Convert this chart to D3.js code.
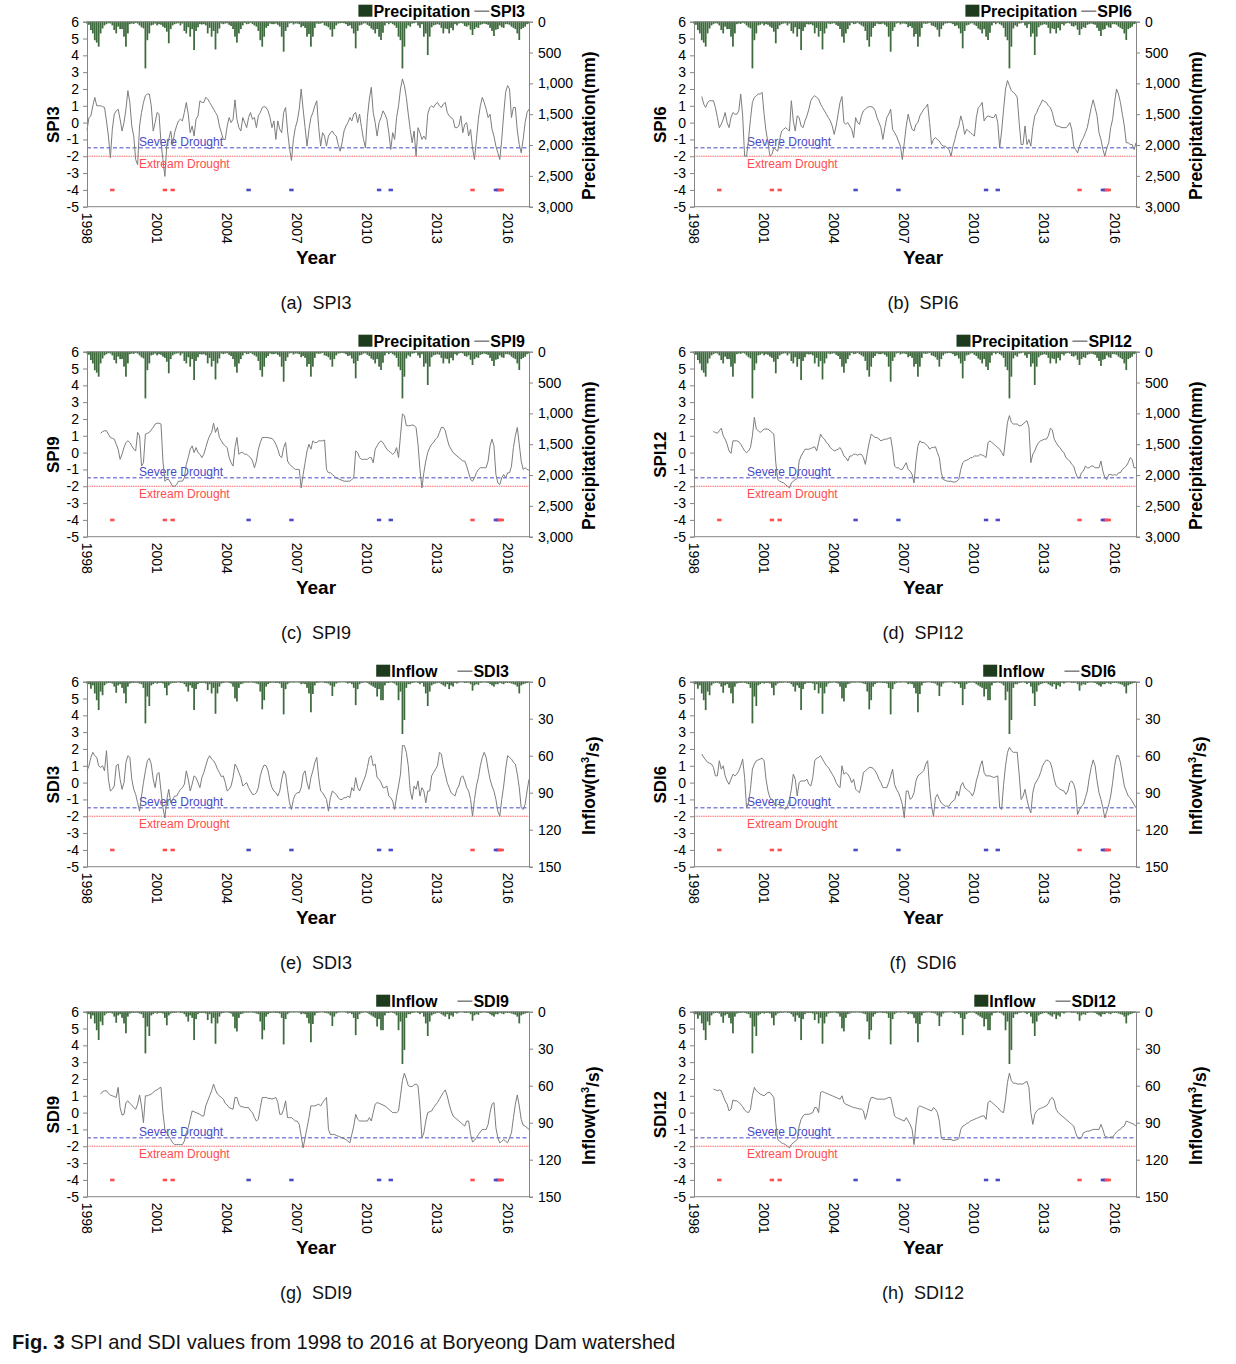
<!DOCTYPE html>
<html><head><meta charset="utf-8">
<script src="https://cdn.jsdelivr.net/npm/d3@7"></script>
<style>
body{margin:0;background:#fff}
svg{display:block}
text{font-family:"Liberation Sans",Arial,sans-serif}
</style>
</head><body>
<svg id="c" width="1236" height="1364"></svg>
<script>
// ---------- DATA (monthly, Jan 1998 - Dec 2016) ----------
const precipitation = [
30,50,135,190,300,340,405,190,110,60,40,25,
30,60,135,190,80,120,120,243,405,190,40,30,
35,20,30,60,90,108,757,300,190,60,50,30,
60,40,50,80,100,162,350,120,60,40,30,25,
60,30,150,190,90,243,120,460,150,90,40,45,
40,60,190,100,243,150,450,190,110,30,40,30,
25,50,70,120,243,340,190,120,60,20,40,35,
20,40,60,80,150,300,405,243,100,70,30,40,
40,30,50,80,243,486,150,90,30,20,45,30,
30,40,90,70,100,243,200,405,243,100,30,35,
30,20,60,70,90,130,243,120,60,30,25,20,
25,40,70,60,110,190,432,150,60,50,30,25,
50,70,110,130,190,120,243,297,180,60,20,40,
20,40,60,100,243,300,757,405,110,60,80,30,
25,15,60,100,40,243,190,540,243,90,60,50,
40,50,100,190,110,120,190,100,140,40,60,30,
20,30,70,80,60,130,216,120,90,100,50,40,
30,40,50,100,150,232,130,120,60,90,100,40,
40,50,80,100,120,190,297,120,100,80,40,30];

const inflow = [
1.5,2,5.7,3,9.5,15,23,8,11,3,1.5,1,
1,1.5,4,9,3,2,5,9.5,17.5,4,1.5,1,
1,0.8,1,1.5,2,5,33.8,12,19.7,3,2,1,
1.5,1,1,1.5,5,11,3,1.5,1,1,0.8,0.6,
1,1,2,4,8,3,5,23,6,2,1,1,
1,1.5,6.8,2,9.5,5,26,9.5,4,1.5,1,0.8,
0.6,1,1.5,4,13.5,16,5,2,1.5,0.8,0.8,0.8,
0.6,0.8,1,1.5,2,8,22.4,15,4,2,1,0.8,
0.8,1,1,1.5,5,26.5,6,2,1,0.6,0.8,0.6,
0.6,0.8,2,1.5,2,5,9.5,24.8,10,3,1,0.8,
0.6,0.5,1,1.2,1.5,3,11.6,4,1.5,0.8,0.6,0.5,
0.5,0.8,1.5,1,2,5,19,6,2,1,0.8,0.6,
1,2,3,4,5,12,6,15,15,3,1,1,
0.6,1,1.5,3,15,8,42.4,31,5,2,2,1,
0.8,0.5,1,2,1,4,9.5,19.7,8,3,2,1.5,
1,1,2,3,4,2,6,3,4,1,1.5,0.8,
0.5,0.6,1,1,0.8,2,7.3,3,2,2.5,1,0.8,
0.6,0.8,1,2,3,4,2,2,1,1.5,2,1,
1,1,1.5,2,2.5,4,9.5,3,2,1.5,1,0.8];

const spi3 = [
-0.45,0.3,0.4,1.0,1.5,1.0,1.0,1.0,0.95,0.9,0.1,-0.8,
-2.1,-0.4,0.5,0.7,0.8,0.2,-0.5,0.0,0.8,1.9,1.2,-0.2,
-0.8,-2.2,-2.5,-0.2,0.6,1.2,1.6,1.7,1.7,1.0,-0.5,0.0,
0.6,0.5,-1.2,-2.2,-3.2,-1.3,-1.0,-0.5,-1.3,-0.6,-0.2,0.1,
0.2,0.1,0.6,1.2,0.5,-0.6,-0.2,-0.8,0.2,0.4,1.3,1.2,
1.2,1.5,1.4,1.2,1.0,0.8,0.6,0.4,-0.2,-0.6,-1.0,-1.0,
-0.2,0.3,0.0,0.2,1.35,0.2,-0.3,-0.5,0.3,0.0,-0.3,0.3,
0.6,0.2,0.3,-0.3,0.4,0.6,0.9,0.95,0.9,0.7,0.3,-0.3,
0.1,-1.0,0.1,-0.4,-0.6,0.6,0.9,-0.5,-1.5,-2.25,-1.0,-0.3,
0.1,0.8,2.0,0.8,-0.3,-1.4,-0.4,0.3,0.6,1.0,1.3,-0.3,
-1.4,-0.6,-0.8,-1.4,-0.8,-0.6,-0.5,-0.7,-0.8,-1.3,-1.7,-1.2,
-0.5,-0.2,0.0,0.3,0.1,0.5,0.6,0.0,0.5,-0.3,-1.0,-1.5,
0.3,1.4,2.1,0.6,0.0,-0.8,0.0,0.3,0.7,0.5,0.2,-0.6,
-1.6,-0.6,-1.0,0.3,1.0,2.0,2.6,2.2,1.5,0.5,-0.4,-1.2,
-0.5,-2.0,-0.3,-0.6,-1.0,-0.8,-1.0,0.5,0.9,1.0,0.9,1.1,
1.2,1.0,0.9,1.1,1.2,0.6,0.4,0.3,0.2,-0.3,-0.3,-0.2,
0.4,-0.6,-0.1,0.0,-0.8,-0.4,-1.5,-2.2,-1.0,0.2,1.0,1.5,
1.2,0.8,0.3,0.5,-0.4,-0.8,-1.4,-1.8,-2.2,-1.0,0.5,1.8,
2.2,2.0,0.3,0.9,0.9,-0.5,-1.3,-1.8,-1.0,0.0,0.6,0.8];

const spi6 = [
null,null,null,null,1.55,1.1,0.9,1.2,1.3,1.3,1.3,0.9,
0.3,-0.3,-0.1,0.2,0.6,0.0,-0.3,0.3,0.6,0.5,0.5,0.7,
1.7,0.4,-2.0,-2.0,-1.0,0.2,1.2,1.5,1.6,1.7,1.7,1.8,
0.5,-0.5,-1.2,-2.0,-1.9,-1.5,-1.6,-1.7,-1.0,-0.5,-0.4,-0.3,
-0.4,-0.5,1.3,0.1,-0.5,0.4,0.3,-0.2,-0.3,0.1,0.4,0.8,
1.3,1.5,1.6,1.5,1.4,1.1,0.9,0.7,0.5,0.3,0.1,-0.2,
-0.7,-0.2,0.5,1.2,1.55,0.0,-0.1,0.0,-0.2,-0.4,-0.9,0.3,
0.0,-0.1,0.4,0.7,0.8,0.9,0.95,0.95,0.9,0.7,0.3,0.0,
-0.3,-1.0,-0.3,0.3,0.5,0.8,-0.4,-0.6,-0.8,-1.1,-1.4,-2.2,
-1.2,-0.2,0.5,0.0,-0.4,-0.5,-0.1,0.0,0.4,0.6,0.8,0.9,
1.1,0.0,-1.3,-1.0,-0.9,-1.0,-1.1,-1.3,-1.4,-1.4,-1.5,-1.6,
-2.0,-1.4,-1.0,-0.5,-0.2,0.4,0.0,-0.7,-0.4,-0.5,-0.6,-0.7,
-0.8,0.3,0.9,1.0,1.2,0.1,0.3,0.4,0.35,0.3,0.3,0.5,
0.0,-1.5,-0.5,0.8,2.0,2.5,2.2,1.9,1.8,1.7,1.5,0.0,
-1.3,-1.3,-0.2,-1.3,-1.0,-1.4,-0.3,0.4,0.6,0.9,1.1,1.35,
1.25,1.2,1.0,0.9,0.6,0.1,-0.2,-0.2,-0.25,-0.3,-0.3,-0.3,
-0.2,0.0,-0.4,-1.4,-1.6,-1.8,-1.4,-1.1,-0.9,-0.6,-0.3,0.3,
0.9,1.35,0.9,0.4,-0.6,-1.0,-1.6,-2.0,-1.5,-1.2,-0.3,0.2,
1.2,2.0,1.7,1.2,0.5,-0.2,-1.2,-1.2,-1.3,-1.3,-1.6,-1.2];

const spi9 = [
null,null,null,null,null,null,null,1.15,1.25,1.3,1.3,1.1,
0.9,0.85,0.8,0.5,0.2,-0.4,-0.1,0.3,0.6,0.7,0.6,0.4,
0.2,0.1,1.2,1.0,-0.8,-0.6,1.1,1.15,1.2,1.35,1.5,1.7,
1.75,1.75,1.7,-0.5,-1.7,-1.6,-1.6,-1.8,-2.0,-2.0,-1.9,-1.7,
-1.7,-1.7,-1.5,-0.7,-0.3,0.2,0.4,0.0,0.3,0.0,-0.1,-0.3,
-0.1,0.3,0.7,1.0,1.2,1.75,1.2,1.5,0.9,0.7,0.5,0.4,
0.3,-0.3,-0.6,-0.8,0.3,0.9,-0.1,0.0,0.0,-0.1,-0.1,-0.2,
-0.3,-0.5,-0.9,-0.5,0.2,0.6,0.9,0.9,0.9,0.9,0.85,0.85,
0.7,0.5,0.2,-0.2,-0.3,0.3,0.6,-0.5,-0.7,-0.8,-0.9,-1.0,
-1.0,-1.0,-2.1,-1.3,-0.6,0.1,0.5,0.2,0.7,0.6,0.6,0.7,
0.7,0.7,0.75,-1.0,-1.2,-1.2,-1.3,-1.4,-1.5,-1.55,-1.6,-1.65,
-1.7,-1.7,-1.7,-1.7,-1.6,-1.5,0.1,0.0,-0.3,-0.4,-0.4,-0.4,
-0.4,-0.3,-0.3,-0.6,0.2,0.4,0.6,0.7,0.6,0.4,0.2,0.1,
0.0,-0.1,0.0,0.3,-0.3,1.0,2.3,2.2,1.6,1.6,1.6,1.65,
1.6,1.5,0.5,-1.0,-2.1,-1.2,-0.5,0.0,0.3,0.5,0.6,0.8,
0.9,1.2,1.5,1.5,1.3,0.8,0.4,0.2,0.0,-0.1,-0.2,-0.3,
-0.4,-0.5,-0.5,-0.8,-1.2,-1.6,-1.7,-1.5,-1.2,-1.0,-0.9,-0.9,
-0.9,-0.9,-0.5,0.4,0.8,0.4,-1.3,-1.8,-1.9,-1.5,-1.3,-1.5,
-1.2,-1.2,-0.8,0.3,1.0,1.5,0.5,-0.5,-1.0,-0.9,-1.0,-1.05];

const spi12 = [
null,null,null,null,null,null,null,null,null,null,1.25,1.2,
1.15,1.3,1.45,1.0,0.8,0.5,0.1,-0.05,0.7,0.7,0.7,0.65,
0.5,0.3,0.1,0.0,0.1,0.3,1.0,2.1,1.4,1.3,1.2,1.3,
1.4,1.4,1.4,1.3,1.2,1.1,-0.6,-1.6,-1.7,-1.75,-1.8,-1.9,
-2.0,-2.1,-1.8,-1.7,-1.6,-1.55,-0.5,-0.2,0.0,0.2,0.2,0.2,
0.25,0.3,0.35,0.1,0.6,1.1,0.9,0.8,0.6,0.5,0.3,0.2,
0.1,0.15,0.2,0.3,0.1,-0.2,-0.3,-0.5,-0.2,-0.2,-0.1,-0.1,
-0.15,-0.1,-0.1,-0.3,-0.7,0.0,0.6,1.1,1.0,0.9,0.9,0.8,
0.7,0.75,0.8,0.8,0.85,0.9,0.2,-0.8,-0.9,-0.9,-1.0,-1.0,
-0.8,-0.6,-1.0,-1.1,-1.3,-1.8,-0.5,0.4,0.7,0.6,0.6,0.5,
0.4,0.2,0.3,0.3,0.35,0.0,-0.3,-1.2,-1.6,-1.65,-1.7,-1.7,
-1.7,-1.75,-1.75,-1.7,-1.6,-1.0,-0.6,-0.5,-0.45,-0.4,-0.3,-0.3,
-0.2,-0.2,-0.2,-0.1,-0.15,-0.2,-0.3,0.6,0.7,0.6,0.5,0.4,
0.3,0.2,0.0,-0.2,0.8,1.8,2.2,1.8,1.7,1.7,1.7,1.6,
1.6,1.7,1.8,1.9,1.5,-0.6,-0.1,0.1,0.4,0.6,0.7,0.75,
0.8,0.8,1.0,1.45,1.35,0.8,0.6,0.4,0.3,0.1,0.0,-0.3,
-0.4,-0.5,-0.7,-0.8,-1.2,-1.5,-1.5,-1.2,-1.1,-0.8,-0.9,-0.9,
-0.8,-0.8,-0.9,-0.9,-0.9,-0.5,-1.1,-1.5,-1.6,-1.3,-1.3,-1.35,
-1.3,-1.35,-1.2,-1.2,-1.0,-0.9,-0.8,-0.6,-0.3,-0.4,-0.9,-0.9];

const sdi3 = [
0.7,1.0,1.5,1.8,1.6,1.5,1.0,0.9,1.0,0.7,1.9,0.2,
-0.5,-0.4,-0.2,1.0,1.1,0.2,-0.4,0.0,1.2,1.6,1.5,0.2,
-0.4,-0.7,-1.2,-1.7,-0.8,0.0,0.7,1.3,1.45,1.1,0.2,-0.3,
0.5,0.6,-0.5,-1.5,-2.1,-1.0,-0.4,-1.2,-1.0,-0.8,-0.8,-0.6,
-0.4,-0.3,-0.1,0.7,0.2,-0.5,-0.1,0.4,0.3,0.0,-0.3,0.3,
0.6,1.0,1.4,1.6,1.4,1.3,1.1,0.8,0.6,0.35,0.4,0.0,
-0.5,-0.4,-0.2,0.3,1.1,0.9,0.6,0.3,-0.2,-0.1,0.0,-0.3,
-0.5,-0.7,-0.7,-0.6,-0.3,0.4,0.8,1.05,1.0,0.7,0.1,-0.3,
-0.5,-0.6,-0.8,-0.5,0.2,0.7,0.5,-0.4,-1.2,-1.6,-1.0,-0.7,
-0.6,-0.6,-0.3,0.5,0.7,0.0,-0.4,0.3,0.7,1.2,1.5,0.3,
-0.5,-0.6,-0.8,-1.0,-1.7,-0.9,-0.5,-0.6,-0.7,-0.9,-1.0,-1.0,
-0.9,-0.9,-0.8,-0.9,-0.3,-0.5,0.3,-0.3,-0.5,-0.2,0.1,0.4,
0.9,1.5,1.6,1.0,1.1,0.3,0.2,0.0,-0.3,-0.3,-0.2,-0.8,
-0.9,-1.1,-1.6,-0.8,-0.2,0.5,2.2,2.2,1.8,1.0,-0.5,-1.0,
-0.2,-0.4,0.1,-0.8,-0.3,-0.5,-1.2,-0.5,-0.5,0.4,0.6,0.8,
1.0,1.8,1.7,1.0,0.5,0.0,-0.3,-0.6,-0.7,-0.8,-0.4,-0.2,
0.3,0.4,0.1,-0.3,-0.5,-1.0,-2.0,-1.0,-0.2,0.3,1.0,1.5,
1.8,1.5,0.8,0.2,-0.2,-0.5,-1.0,-1.7,-2.0,-1.0,-0.2,0.8,
1.6,1.5,1.4,1.2,1.1,0.5,-0.3,-1.5,-1.6,-1.3,-0.5,0.2];

const sdi6 = [
null,null,null,null,1.7,1.5,1.35,1.2,1.15,1.1,0.9,0.4,
0.4,1.3,0.8,1.0,0.4,0.1,-0.1,0.2,0.5,0.4,0.5,0.7,
1.0,1.4,0.3,-1.5,-1.2,-0.4,0.8,1.1,1.3,1.35,1.4,1.45,
1.3,0.2,-0.5,-0.9,-1.0,-1.2,-1.4,-1.3,-1.3,-1.5,-1.5,-1.6,
-1.4,-1.0,-0.4,0.5,0.2,-0.8,0.0,0.1,0.1,0.1,0.2,-0.1,
-0.2,0.3,1.3,1.45,1.5,1.6,1.4,1.2,1.0,0.9,0.7,0.5,
0.3,0.0,-0.2,-0.3,1.0,0.5,0.6,0.5,0.3,0.0,0.2,-0.4,
-0.5,-0.6,-0.1,0.6,0.7,0.8,0.9,0.9,0.85,0.7,0.5,0.2,
0.0,-0.3,-0.3,-0.3,0.0,0.4,0.8,-0.1,-0.4,-0.6,-0.9,-1.3,
-2.1,-0.5,-0.5,-1.0,-0.9,-0.6,0.1,0.4,0.5,0.6,0.7,1.1,
1.3,-0.3,-1.4,-2.0,-0.9,-0.7,-1.0,-1.2,-1.3,-1.4,-1.4,-1.4,
-1.2,-1.1,-1.0,-0.5,-0.8,-0.2,0.0,-0.3,-0.4,-0.5,-0.6,-0.8,
-0.5,0.1,0.5,1.0,1.3,0.6,0.4,0.4,0.4,0.35,0.3,0.35,
0.4,-1.5,-1.6,-0.1,1.0,1.8,2.1,1.9,1.8,1.8,1.8,0.5,
-1.0,-0.8,-0.4,-1.0,-1.5,-1.8,-0.6,-0.1,0.1,0.3,0.6,1.0,
1.2,1.35,1.3,1.2,0.8,0.2,-0.2,-0.3,-0.4,-0.45,-0.5,-0.7,
-0.5,0.0,0.1,-0.1,-0.5,-1.9,-1.6,-1.4,-1.3,-0.9,-0.5,0.3,
0.9,1.35,1.0,0.1,-0.6,-1.0,-1.5,-2.1,-1.7,-1.3,-0.8,0.0,
1.0,1.6,1.6,1.2,0.5,-0.2,-0.5,-0.8,-0.9,-1.1,-1.3,-1.5];

const sdi9 = [
null,null,null,null,null,null,null,1.1,1.25,1.3,1.3,1.15,
1.05,1.0,0.95,0.9,1.5,0.3,-0.15,-0.1,0.6,0.7,0.55,0.45,
0.3,0.2,0.5,1.05,0.4,-0.6,1.0,1.0,1.05,1.1,1.2,1.3,
1.35,1.45,1.5,0.0,-1.0,-1.2,-1.4,-1.6,-1.8,-1.9,-1.9,-1.9,
-1.9,-1.9,-1.7,-1.2,-0.9,-0.4,0.1,0.05,0.0,-0.05,-0.1,-0.2,
-0.2,0.4,0.7,1.0,1.3,1.7,1.35,1.1,1.0,0.9,0.8,0.55,
0.45,0.3,0.25,0.2,0.9,0.9,0.5,0.35,0.35,0.3,0.3,0.3,
0.1,0.0,-0.3,-0.5,-0.4,0.3,0.9,0.9,0.9,0.85,0.85,0.8,
0.85,0.9,0.6,-0.1,-0.1,0.2,0.7,-0.3,-0.3,-0.3,-0.4,-0.5,
-0.5,-0.7,-1.4,-2.1,-1.5,-0.9,-0.3,0.4,0.4,0.4,0.45,0.5,
0.4,0.6,0.75,0.9,-1.0,-1.3,-1.3,-1.3,-1.35,-1.4,-1.45,-1.5,
-1.55,-1.6,-1.7,-1.8,-1.3,-0.8,-0.1,-0.4,-0.5,-0.5,-0.5,-0.5,
-0.5,-0.3,-0.5,0.0,0.5,0.6,0.55,0.5,0.45,0.4,0.3,0.2,
0.1,0.0,0.0,0.0,0.1,1.0,1.9,2.35,2.0,1.6,1.55,1.55,
1.65,1.7,1.6,0.3,-1.5,-1.2,-0.5,0.0,0.05,0.1,0.3,0.45,
0.6,0.8,1.0,1.2,1.35,1.0,0.5,0.1,-0.2,-0.3,-0.4,-0.5,
-0.6,-0.7,-0.8,-0.5,-0.5,-1.3,-1.75,-1.65,-1.5,-1.3,-1.15,-1.0,
-1.0,-1.0,-0.7,0.0,0.5,0.6,-0.9,-1.5,-1.8,-1.7,-1.6,-1.7,
-1.8,-1.5,-1.2,-0.3,0.5,1.05,0.4,-0.4,-0.75,-0.8,-0.9,-1.0];

const sdi12 = [
null,null,null,null,null,null,null,null,null,null,1.4,1.35,
1.3,1.35,1.3,1.0,0.7,0.5,0.1,0.2,0.75,0.7,0.7,0.6,
0.5,0.35,0.15,0.05,0.0,0.2,1.0,1.5,1.3,1.2,1.1,1.05,
1.0,1.1,1.2,1.2,1.05,0.9,-0.6,-1.6,-1.7,-1.8,-1.85,-1.9,
-2.0,-2.1,-1.9,-1.8,-1.7,-1.6,-0.8,-0.4,-0.2,-0.1,-0.1,-0.1,
-0.05,0.0,0.3,0.3,0.0,1.2,1.25,1.2,1.15,1.1,1.05,1.0,
0.95,0.9,0.85,0.8,1.0,0.6,0.5,0.45,0.4,0.35,0.3,0.28,
0.25,0.22,0.2,0.1,-0.4,0.0,0.6,0.9,0.9,0.85,0.8,0.8,
0.8,0.8,0.8,0.85,0.9,0.9,0.4,-0.2,-0.3,-0.35,-0.4,-0.45,
-0.5,-0.3,-0.5,-0.7,-1.0,-1.9,-0.7,0.3,0.4,0.35,0.3,0.25,
0.2,0.15,0.1,0.3,0.2,0.0,-0.5,-1.5,-1.6,-1.6,-1.6,-1.6,
-1.6,-1.65,-1.65,-1.6,-1.55,-1.0,-0.8,-0.75,-0.65,-0.6,-0.5,-0.45,
-0.4,-0.35,-0.3,-0.25,-0.2,-0.2,-0.4,0.6,0.7,0.6,0.5,0.4,
0.3,0.15,0.05,0.0,0.8,1.8,2.35,1.9,1.75,1.75,1.7,1.7,
1.7,1.7,1.8,1.85,1.5,0.0,-0.7,-0.1,0.1,0.2,0.25,0.3,
0.35,0.4,0.55,0.8,0.9,0.7,0.2,0.0,-0.1,-0.2,-0.3,-0.4,
-0.5,-0.6,-0.7,-0.8,-1.2,-1.5,-1.55,-1.5,-1.2,-1.15,-1.1,-1.1,
-1.05,-1.0,-1.0,-1.0,-1.0,-0.7,-1.0,-1.4,-1.45,-1.5,-1.45,-1.45,
-1.3,-1.15,-1.05,-1.0,-0.85,-0.8,-0.5,-0.55,-0.6,-0.65,-0.7,-0.8];

const yearLabels = ["1998","2001","2004","2007","2010","2013","2016"];
const yearTickMonths = [0,36,72,108,144,180,216];
const indexTicks = [-5,-4,-3,-2,-1,0,1,2,3,4,5,6];
const precipTicks = [0,500,1000,1500,2000,2500,3000];
const inflowTicks = [0,30,60,90,120,150];
const droughtMonths = [13,40,44,83,105,150,156,198,210,211,212,213];
const droughtLevel  = ["extreme","extreme","extreme","severe","severe","severe","severe","extreme","severe","severe","extreme","extreme"];
const severeLevel = -1.5, extremeLevel = -2.0, markerLevel = -4;
const captions = ["(a)  SPI3","(b)  SPI6","(c)  SPI9","(d)  SPI12","(e)  SDI3","(f)  SDI6","(g)  SDI9","(h)  SDI12"];

const panels = [
  {name:"SPI3", line:spi3, bars:precipitation, barName:"Precipitation", kind:"p"},
  {name:"SPI6", line:spi6, bars:precipitation, barName:"Precipitation", kind:"p"},
  {name:"SPI9", line:spi9, bars:precipitation, barName:"Precipitation", kind:"p"},
  {name:"SPI12", line:spi12, bars:precipitation, barName:"Precipitation", kind:"p"},
  {name:"SDI3", line:sdi3, bars:inflow, barName:"Inflow", kind:"q"},
  {name:"SDI6", line:sdi6, bars:inflow, barName:"Inflow", kind:"q"},
  {name:"SDI9", line:sdi9, bars:inflow, barName:"Inflow", kind:"q"},
  {name:"SDI12", line:sdi12, bars:inflow, barName:"Inflow", kind:"q"}
];

// ---------- DRAW ----------
const svg = d3.select("#c");
const W = 442, H = 185;
const colLeft = [87, 694];
const rowTop = [21.7, 351.7, 681.7, 1011.7];
const axisCol = "#868686";
const barCol = "#3d6b3d";
const lineCol = "#7d7d7d";
const blue = "#4a4ac8", red = "#ff4d4d";
const months = d3.range(228);
const fontFam = '"Liberation Sans",Arial,sans-serif';

panels.forEach((p, i) => {
  const c = i % 2, r = Math.floor(i / 2);
  const L = colLeft[c], T = rowTop[r], R = L + W, B = T + H;
  const g = svg.append("g");
  const x = d3.scaleLinear().domain([0, 227]).range([L, R]);
  const y = d3.scaleLinear().domain([-5, 6]).range([B, T]);
  const bMax = p.kind === "p" ? 3000 : 150;
  const yb = d3.scaleLinear().domain([0, bMax]).range([T, B]);
  const step = x(1) - x(0);

  // bars hanging from top
  g.append("g").selectAll("rect").data(months).join("rect")
    .attr("x", m => x(m) - step * 0.45)
    .attr("width", step * 0.9)
    .attr("y", T)
    .attr("height", m => yb(p.bars[m]) - T)
    .attr("fill", barCol);

  // threshold lines
  g.append("line").attr("x1", L).attr("x2", R).attr("y1", y(severeLevel)).attr("y2", y(severeLevel))
    .attr("stroke", blue).attr("stroke-width", 1).attr("stroke-dasharray", "4,2.5");
  g.append("line").attr("x1", L).attr("x2", R).attr("y1", y(extremeLevel)).attr("y2", y(extremeLevel))
    .attr("stroke", red).attr("stroke-width", 1).attr("stroke-dasharray", "1.5,0.8").attr("opacity", 0.85);

  g.append("text").attr("x", L + 52 + (c ? 1 : 0)).attr("y", y(severeLevel) - 2)
    .attr("font-size", 12).attr("fill", blue).text("Severe Drought");
  g.append("text").attr("x", L + 52 + (c ? 1 : 0)).attr("y", y(extremeLevel) + 12)
    .attr("font-size", 12).attr("fill", red).text("Extream Drought");

  // index line
  const ln = d3.line().defined(m => p.line[m] != null).x(m => x(m)).y(m => y(p.line[m]));
  g.append("path").datum(months).attr("d", ln).attr("fill", "none")
    .attr("stroke", lineCol).attr("stroke-width", 1);

  // drought markers
  g.append("g").selectAll("rect").data(droughtMonths).join("rect")
    .attr("x", (m) => x(m) - 2.2).attr("width", 4.4)
    .attr("y", y(markerLevel) - 1.2).attr("height", 2.6)
    .attr("fill", (m, k) => droughtLevel[k] === "severe" ? blue : red);

  // frame: top line and bottom axis
  g.append("line").attr("x1", L).attr("x2", R).attr("y1", T).attr("y2", T).attr("stroke", axisCol);
  g.append("line").attr("x1", L).attr("x2", R).attr("y1", B).attr("y2", B).attr("stroke", axisCol);

  // left axis
  const la = g.append("g").attr("transform", `translate(${L},0)`)
    .call(d3.axisLeft(y).tickValues(indexTicks).tickSize(4).tickPadding(4).tickFormat(d => String(d)));
  la.select(".domain").attr("stroke", axisCol);
  la.selectAll(".tick line").attr("stroke", axisCol);
  la.selectAll("text").attr("font-size", 14).attr("fill", "#000").style("font-family", fontFam);

  // right axis
  const ra = g.append("g").attr("transform", `translate(${R},0)`)
    .call(d3.axisRight(yb).tickValues(p.kind === "p" ? precipTicks : inflowTicks)
      .tickSize(4).tickPadding(5).tickFormat(d3.format(",")));
  ra.select(".domain").attr("stroke", axisCol);
  ra.selectAll(".tick line").attr("stroke", axisCol);
  ra.selectAll("text").attr("font-size", 14).attr("fill", "#000").style("font-family", fontFam);

  // x labels (rotated)
  g.append("g").selectAll("text").data(yearTickMonths).join("text")
    .attr("transform", (m) => `translate(${x(m)},${B + 6}) rotate(90)`)
    .attr("dy", "0.36em").attr("font-size", 14).attr("fill", "#000")
    .text((m, k) => yearLabels[k]);

  // axis titles
  g.append("text").attr("transform", `translate(${L - 34},${T + 103}) rotate(-90)`)
    .attr("text-anchor", "middle").attr("dy", "0.35em")
    .attr("font-size", 17).attr("font-weight", "bold").text(p.name);
  const rt = g.append("text").attr("transform", `translate(${R + 60},${T + 104}) rotate(-90)`)
    .attr("text-anchor", "middle").attr("dy", "0.35em")
    .attr("font-size", 17.5).attr("font-weight", "bold");
  if (p.kind === "p") rt.text("Precipitation(mm)");
  else {
    rt.append("tspan").text("Inflow(m");
    rt.append("tspan").attr("font-size", 11).attr("dy", "-0.6em").text("3");
    rt.append("tspan").attr("dy", "0.6em").text("/s)");
  }
  g.append("text").attr("x", L + 229).attr("y", T + 242).attr("text-anchor", "middle")
    .attr("font-size", 19).attr("font-weight", "bold").text("Year");

  // legend
  const ly = T - 5;
  const nameEnd = p.kind === "p" ? R - 4 : R - 20;
  const nm = g.append("text").attr("x", nameEnd).attr("y", ly).attr("text-anchor", "end")
    .attr("font-size", 16).attr("font-weight", "bold").text(p.name);
  const nw = nm.node().getComputedTextLength();
  const lineEnd = nameEnd - nw - 1, lineStart = lineEnd - 15;
  g.append("line").attr("x1", lineStart).attr("x2", lineEnd).attr("y1", ly - 5.5).attr("y2", ly - 5.5)
    .attr("stroke", lineCol).attr("stroke-width", 1.5);
  const bEnd = p.kind === "p" ? lineStart - 4 : lineStart - 20;
  const bn = g.append("text").attr("x", bEnd).attr("y", ly).attr("text-anchor", "end")
    .attr("font-size", 16).attr("font-weight", "bold").text(p.barName);
  const bw = bn.node().getComputedTextLength();
  g.append("rect").attr("x", bEnd - bw - 15).attr("y", ly - 12).attr("width", 14).attr("height", 12)
    .attr("fill", "#1e3b1e");

  // caption
  g.append("text").attr("x", L + 229).attr("y", T + 287).attr("text-anchor", "middle")
    .attr("font-size", 18).attr("fill", "#111").style("white-space", "pre").text(captions[i]);
});

// figure caption
const fc = svg.append("text").attr("x", 12).attr("y", 1349).attr("font-size", 18).attr("fill", "#111");
fc.append("tspan").attr("font-weight", "bold").text("Fig. 3");
fc.append("tspan").text(" SPI and SDI values from 1998 to 2016 at Boryeong Dam watershed");
const fw = fc.node().getComputedTextLength();
fc.attr("font-size", 18 * 664 / fw);
</script>
</body></html>
